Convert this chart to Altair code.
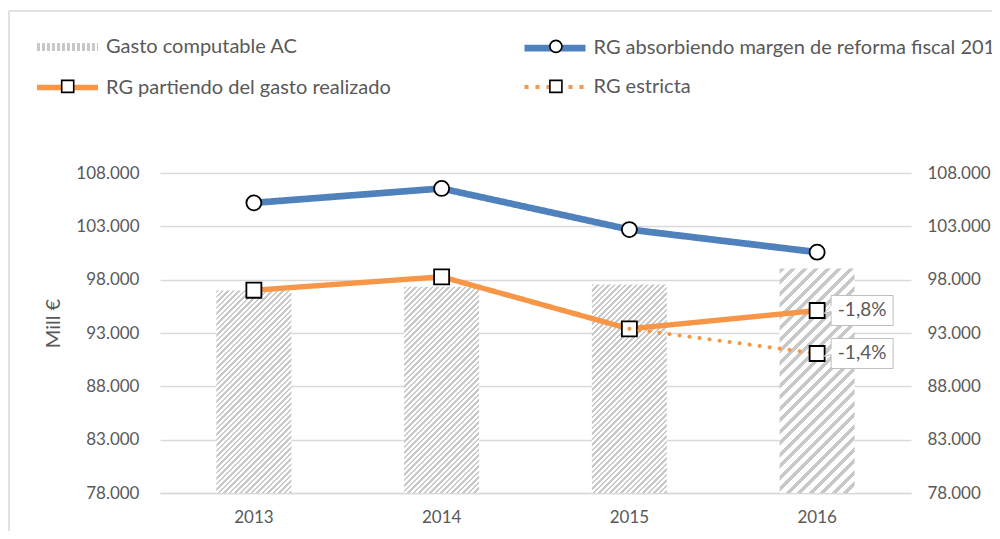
import altair as alt
import pandas as pd

# ---------------- data ----------------
YEARS = ["2013", "2014", "2015", "2016"]
GASTO_AC = [96980, 97330, 97550, 99050]
RG_ABSORBIENDO = [105200, 106550, 102700, 100575]
RG_PARTIENDO = [97010, 98270, 93390, 95110]
ESTRICTA_YEARS = ["2015", "2016"]
RG_ESTRICTA = [93390, 91080]
LABEL_YEARS = ["2016", "2016"]
LABEL_VALUES = [95110, 91080]
LABEL_TEXTS = ["-1,8%", "-1,4%"]
SERIES = [
    "Gasto computable AC",
    "RG absorbiendo margen de reforma fiscal 2013",
    "RG partiendo del gasto realizado",
    "RG estricta",
]
Y_TICKS = [78000, 83000, 88000, 93000, 98000, 103000, 108000]
Y_MIN, Y_MAX = 78000, 108000

# ---------------- style ----------------
FONT = "Lato"
TXT = "#595959"
GRID = "#d9d9d9"
BLUE = "#4f81bd"
ORANGE = "#f79646"
HATCH_GRAY = "#c8c8c8"
PLOT_W, PLOT_H = 751, 320
BAR_W = 75
HATCH_PERIOD = [5.5, 5.5, 5.5, 11.5]

CIRCLE = "M-0.38,0A0.38,0.38 0 1,0 0.38,0A0.38,0.38 0 1,0 -0.38,0Z"
SQUARE = "M-0.38,-0.38L0.38,-0.38L0.38,0.38L-0.38,0.38Z"
EMPTY = "M0,0Z"
LINE_SYM = "M-1.93,0L1.93,0"
BOX = "M0.28,-0.3L1.52,-0.3L1.52,0.3L0.28,0.3L0.28,0.02L0.14,0.06L0.28,-0.1Z"

LABEL_EXPR = "replace(format(datum.value, ',d'), ',', '.')"


def hatch(value, period):
    w = BAR_W
    h = (value - Y_MIN) / (Y_MAX - Y_MIN) * PLOT_H
    k = (w + h) / (w * w + h * h)
    total = w + h
    n = int(total / period) + 1
    stops = []
    for i in range(n):
        a = min(i * period / total, 1)
        m = min((i + 0.45) * period / total, 1)
        b = min((i + 1) * period / total, 1)
        stops += [(a, HATCH_GRAY), (m, HATCH_GRAY), (m, "#ffffff"), (b, "#ffffff")]
    return alt.LinearGradient(
        gradient="linear", x1=0, y1=0, x2=round(k * w, 4), y2=round(k * h, 4),
        stops=[alt.GradientStop(offset=round(o, 4), color=c) for o, c in stops],
    )


df_bars = pd.DataFrame({"year": YEARS, "value": GASTO_AC})
df_lines = pd.DataFrame({
    "year": YEARS + YEARS,
    "value": RG_ABSORBIENDO + RG_PARTIENDO,
    "serie": [SERIES[1]] * 4 + [SERIES[2]] * 4,
})
df_lines["serie_m"] = df_lines["serie"]
df_strict = pd.DataFrame({"year": ESTRICTA_YEARS, "value": RG_ESTRICTA, "serie": [SERIES[3]] * 2})
df_strict["serie_m"] = df_strict["serie"]
df_strict_pt = df_strict[df_strict["year"] == "2016"]
df_labels = pd.DataFrame({"year": LABEL_YEARS, "value": LABEL_VALUES, "txt": LABEL_TEXTS})

x_enc = alt.X(
    "year:N",
    scale=alt.Scale(type="band", domain=YEARS, paddingInner=0, paddingOuter=0),
    axis=alt.Axis(labelAngle=0, labelFont=FONT, labelFontSize=17, labelColor=TXT,
                  labelPadding=16, ticks=False, domain=True, domainColor=GRID,
                  domainWidth=1.3, grid=False),
    title=None,
)
y_scale = alt.Scale(domain=[Y_MIN, Y_MAX], nice=False, zero=False)
y_left = alt.Y(
    "value:Q", scale=y_scale, title="Mill €",
    axis=alt.Axis(values=Y_TICKS, labelExpr=LABEL_EXPR, grid=True, gridColor=GRID,
                  gridWidth=1.3, domain=False, ticks=False, labelFont=FONT,
                  labelFontSize=17, labelColor=TXT, labelPadding=21,
                  titleFont=FONT, titleFontSize=20, titleFontWeight="normal",
                  titleColor=TXT, titleX=-107, titleY=150, titleAngle=270,
                  titleAlign="center", titleBaseline="middle"),
)
y_right = alt.Y(
    "value:Q", scale=y_scale, title=None,
    axis=alt.Axis(orient="right", values=Y_TICKS, labelExpr=LABEL_EXPR, grid=False,
                  domain=False, ticks=False, labelFont=FONT, labelFontSize=17,
                  labelColor=TXT, labelPadding=16),
)

LEG = dict(orient="none", columns=2, direction="horizontal", title=None,
           labelFont=FONT, labelFontSize=20, labelColor=TXT, labelLimit=700,
           symbolSize=1000, values=SERIES)

legend_lines = alt.Legend(symbolType=LINE_SYM, zindex=0, legendX=-112.5, legendY=-146,
                          labelOffset=18.5, columnPadding=119.5, rowPadding=6, **LEG)
legend_marks = alt.Legend(labelOpacity=0, symbolStrokeWidth=1.6, symbolOpacity=1,
                          zindex=1, legendX=-109.3, legendY=-143.6, labelOffset=21.8,
                          columnPadding=147.2, rowPadding=13, **LEG)

color_enc = alt.Color("serie:N", scale=alt.Scale(domain=SERIES,
                      range=[HATCH_GRAY, BLUE, ORANGE, ORANGE]), legend=legend_lines)
dash_enc = alt.StrokeDash("serie:N", scale=alt.Scale(domain=SERIES,
                          range=[[3, 2], [1, 0], [1, 0], [4, 7]]), legend=legend_lines)
width_enc = alt.StrokeWidth("serie:N", scale=alt.Scale(domain=SERIES,
                            range=[8, 4, 4.5, 5]), legend=legend_lines)
# marker scales carry one extra (unused) entry so that their legend stays separate
M_DOMAIN = SERIES + ["_"]
shape_enc = alt.Shape("serie_m:N", scale=alt.Scale(domain=M_DOMAIN,
                      range=[EMPTY, CIRCLE, SQUARE, SQUARE, EMPTY]), legend=legend_marks)
mfill_enc = alt.Fill("serie_m:N", scale=alt.Scale(domain=M_DOMAIN, range=["white"] * 5),
                     legend=legend_marks)
mstroke_enc = alt.Stroke("serie_m:N", scale=alt.Scale(domain=M_DOMAIN, range=["black"] * 5),
                         legend=legend_marks)

bar_layers = []
for yr, val, per in zip(YEARS, GASTO_AC, HATCH_PERIOD):
    bar_layers.append(
        alt.Chart(df_bars).transform_filter(alt.datum.year == yr)
        .mark_bar(size=BAR_W, color=hatch(val, per))
        .encode(x=x_enc, y=y_left, y2=alt.datum(Y_MIN))
    )

line_main = alt.Chart(df_lines).mark_line(strokeCap="round").encode(
    x=x_enc, y=y_left, color=color_enc, strokeDash=dash_enc, strokeWidth=width_enc,
    detail="serie:N")
pts_main = alt.Chart(df_lines).mark_point(filled=True, strokeWidth=1.8, size=1560,
                                          opacity=1).encode(
    x=x_enc, y=y_left, shape=shape_enc, fill=mfill_enc, stroke=mstroke_enc)
line_strict = alt.Chart(df_strict).mark_line(strokeCap="round", strokeDash=[0.1, 10]).encode(
    x=x_enc, y=y_left, color=color_enc, strokeWidth=width_enc)
pts_strict = alt.Chart(df_strict_pt).mark_point(filled=True, strokeWidth=1.8, size=1560,
                                                opacity=1).encode(
    x=x_enc, y=y_left, shape=shape_enc, fill=mfill_enc, stroke=mstroke_enc)
boxes = alt.Chart(df_labels).mark_point(shape=BOX, size=10000, filled=True, fill="white",
                                        stroke="#bfbfbf", strokeWidth=1, opacity=1).encode(
    x=x_enc, y=y_left)
texts = alt.Chart(df_labels).mark_text(dx=45, font=FONT, fontSize=19, color=TXT,
                                       align="center", baseline="middle").encode(
    x=x_enc, y=y_left, text="txt:N")

main = alt.layer(*bar_layers, line_main, pts_main, line_strict, pts_strict, boxes, texts)
right = alt.Chart(df_bars).mark_point(opacity=0).encode(x=x_enc, y=y_right)

frame_df = pd.DataFrame({"k": [0]})
frame_h = alt.Chart(frame_df).mark_rule(color=GRID, strokeWidth=1.5).encode(
    x=alt.value(-151), x2=alt.value(840), y=alt.value(-162))
frame_v = alt.Chart(frame_df).mark_rule(color=GRID, strokeWidth=1.5).encode(
    x=alt.value(-151), y=alt.value(-162), y2=alt.value(360))

chart = (
    alt.layer(main, right, frame_h, frame_v)
    .resolve_scale(y="independent")
    .properties(width=PLOT_W, height=PLOT_H,
                autosize=alt.AutoSizeParams(type="none"),
                padding={"left": 152, "top": 165, "right": 81, "bottom": 38},
                background="white")
    .configure_view(stroke=None)
)

chart.save("out.html", embed_options={"renderer": "svg", "actions": False})
